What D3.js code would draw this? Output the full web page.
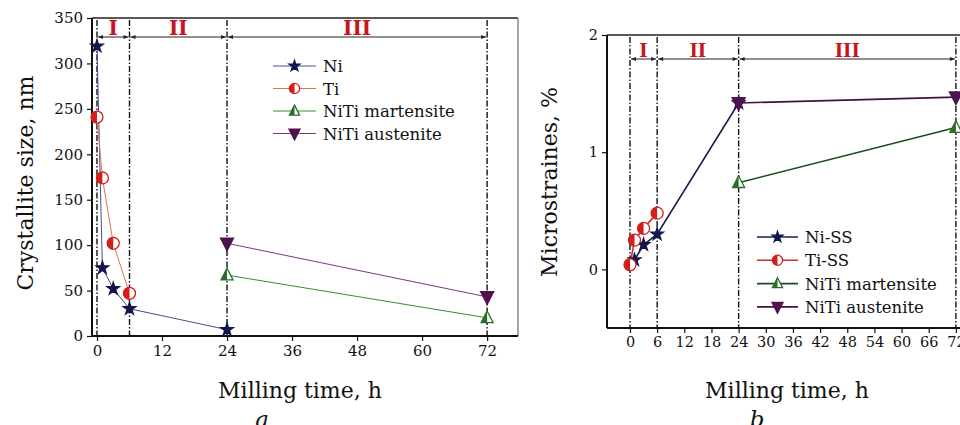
<!DOCTYPE html>
<html>
<head>
<meta charset="utf-8">
<script src="https://cdn.jsdelivr.net/npm/d3@7"></script>
<style>
  body { margin: 0; background: #fff; }
  svg { display: block; font-family: "DejaVu Serif", serif; }
</style>
</head>
<body>
<svg id="chart" width="960" height="425"></svg>
<script>
// ---- data ----
const regionBounds = [0, 6, 24, 72];
const regionNames = ["I", "II", "III"];

// panel a: crystallite size, nm
const sizeTicksX = [0, 12, 24, 36, 48, 60, 72];
const sizeTicksY = [0, 50, 100, 150, 200, 250, 300, 350];
const niTime = [0, 1, 3, 6, 24];
const niSize = [319, 75, 52, 30, 7];
const tiTime = [0, 1, 3, 6];
const tiSize = [241, 174, 102, 47];
const martTimeA = [24, 72];
const martSize = [67, 20];
const austTimeA = [24, 72];
const austSize = [102, 43];

// panel b: microstrains, %
const strainTicksX = [0, 6, 12, 18, 24, 30, 36, 42, 48, 54, 60, 66, 72];
const strainTicksY = [0, 1, 2];
const niSSTime = [1, 3, 6, 24];
const niSSStrain = [0.08, 0.21, 0.30, 1.42];
const tiSSTime = [0, 1, 3, 6];
const tiSSStrain = [0.04, 0.25, 0.35, 0.48];
const martTimeB = [24, 72];
const martStrain = [0.74, 1.21];
const austTimeB = [24, 72];
const austStrain = [1.42, 1.47];

const zip = (xs, ys) => xs.map((x, i) => ({ x, y: ys[i] }));

const svg = d3.select("#chart");

// arrowheads for the region bars
const defs = svg.append("defs");
["start", "end"].forEach((k) => {
    defs.append("marker")
        .attr("id", "arr-" + k)
        .attr("viewBox", "0 0 10 10")
        .attr("refX", k === "end" ? 10 : 0)
        .attr("refY", 5)
        .attr("markerWidth", 7)
        .attr("markerHeight", 5)
        .attr("markerUnits", "userSpaceOnUse")
        .attr("orient", "auto")
        .append("path")
        .attr("d", k === "end" ? "M0,1 L10,5 L0,9 Z" : "M10,1 L0,5 L10,9 Z")
        .attr("fill", "#222");
});

// marker glyphs
function markerPath(kind, r) {
    if (kind === "star") return d3.symbol(d3.symbolStar, r * r * 1.35)();
    if (kind === "circle") return d3.symbol(d3.symbolCircle, Math.PI * r * r)();
    const h = r * 1.15;
    if (kind === "tri") return `M0,${-h}L${r},${h * 0.7}L${-r},${h * 0.7}Z`;
    return `M0,${h}L${r},${-h * 0.7}L${-r},${-h * 0.7}Z`;
}
function halfPath(kind, r) {
    if (kind === "circle") return `M0,${-r}A${r},${r} 0 0 0 0,${r}Z`;
    const h = r * 1.15;
    return `M0,${-h}L${-r},${h * 0.7}L0,${h * 0.7}Z`;
}

function drawMarker(g, kind, half, color, cx, cy, r) {
    const m = g.append("g").attr("transform", `translate(${cx},${cy})`);
    m.append("path")
        .attr("d", markerPath(kind, r))
        .attr("fill", half ? "#fff" : color)
        .attr("stroke", color)
        .attr("stroke-width", 1.3);
    if (half) {
        m.append("path").attr("d", halfPath(kind, r)).attr("fill", color);
    }
}

function drawPanel(cfg) {
    const g = svg.append("g");
    const x = d3.scaleLinear().domain(cfg.xDomain).range(cfg.xRange);
    const y = d3.scaleLinear().domain(cfg.yDomain).range(cfg.yRange);
    const [x0, x1] = cfg.xRange;
    const [yb, yt] = cfg.yRange;

    // frame
    g.append("line").attr("x1", x0).attr("x2", x1).attr("y1", yt).attr("y2", yt)
        .attr("stroke", "#222").attr("stroke-width", 1.5);
    if (cfg.rightBorder) {
        g.append("line").attr("x1", x1).attr("x2", x1).attr("y1", yt).attr("y2", yb)
            .attr("stroke", "#888").attr("stroke-width", 1.5);
    }

    // axes
    const ax = g.append("g").attr("transform", `translate(0,${yb})`)
        .call(d3.axisBottom(x).tickValues(cfg.xTicks).tickFormat(d3.format("d"))
            .tickSize(5).tickPadding(4));
    const ay = g.append("g").attr("transform", `translate(${x0},0)`)
        .call(d3.axisLeft(y).tickValues(cfg.yTicks).tickFormat(d3.format("d"))
            .tickSize(5).tickPadding(4));
    [ax, ay].forEach((a) => {
        a.select(".domain").remove();
        a.selectAll(".tick line").attr("stroke", "#111").attr("stroke-width", 1.2);
        a.selectAll(".tick text").attr("fill", "#111")
            .style("font-size", cfg.tickFont + "px")
            .style("font-family", "'DejaVu Serif', serif");
    });
    g.append("line").attr("x1", x0).attr("x2", x1).attr("y1", yb).attr("y2", yb)
        .attr("stroke", "#111").attr("stroke-width", 2);
    g.append("line").attr("x1", x0).attr("x2", x0).attr("y1", yt).attr("y2", yb)
        .attr("stroke", "#111").attr("stroke-width", 2);

    // region boundaries
    g.selectAll(".vline").data(regionBounds).join("line")
        .attr("x1", (d) => x(d)).attr("x2", (d) => x(d))
        .attr("y1", yt + 2).attr("y2", yb)
        .attr("stroke", "#111").attr("stroke-width", 1.4)
        .attr("stroke-dasharray", "6,2,1.5,2");

    // region arrows and labels
    regionNames.forEach((name, i) => {
        const a = x(regionBounds[i]), b = x(regionBounds[i + 1]);
        g.append("line")
            .attr("x1", a + 1).attr("x2", b - 1)
            .attr("y1", cfg.arrowY).attr("y2", cfg.arrowY)
            .attr("stroke", "#222").attr("stroke-width", 1)
            .attr("marker-start", "url(#arr-start)")
            .attr("marker-end", "url(#arr-end)");
        g.append("text")
            .attr("x", (a + b) / 2).attr("y", cfg.arrowY - 2)
            .attr("text-anchor", "middle")
            .attr("fill", "#c8141e")
            .style("font-weight", "bold")
            .style("font-size", cfg.regionFont + "px")
            .text(name);
    });

    // series
    const line = d3.line().x((d) => x(d.x)).y((d) => y(d.y));
    cfg.series.forEach((s) => {
        g.append("path").datum(s.pts).attr("d", line)
            .attr("fill", "none").attr("stroke", s.line).attr("stroke-width", cfg.lineWidth);
    });
    cfg.series.forEach((s) => {
        s.pts.forEach((p) => drawMarker(g, s.kind, s.half, s.color, x(p.x), y(p.y), s.r));
    });

    // legend
    cfg.series.forEach((s, i) => {
        const ly = cfg.legend.y + i * cfg.legend.dy;
        const lx = cfg.legend.x;
        g.append("line").attr("x1", lx).attr("x2", lx + cfg.legend.w)
            .attr("y1", ly).attr("y2", ly)
            .attr("stroke", s.line).attr("stroke-width", cfg.lineWidth);
        drawMarker(g, s.kind, s.half, s.color, lx + cfg.legend.w / 2, ly, s.r * 0.85);
        g.append("text").attr("x", lx + cfg.legend.w + 7).attr("y", ly + 6)
            .attr("fill", "#111").style("font-size", cfg.legend.font + "px")
            .text(s.name);
    });

    // axis titles
    g.append("text")
        .attr("x", cfg.xTitle[0]).attr("y", cfg.xTitle[1])
        .attr("text-anchor", "middle").attr("fill", "#111")
        .style("font-size", "22px").text("Milling time, h");
    g.append("text")
        .attr("transform", `translate(${cfg.yTitle[0]},${cfg.yTitle[1]}) rotate(-90)`)
        .attr("text-anchor", "middle").attr("fill", "#111")
        .style("font-size", "22px").text(cfg.yTitleText);
    g.append("text")
        .attr("x", cfg.letter[0]).attr("y", cfg.letter[1])
        .attr("text-anchor", "middle").attr("fill", "#111")
        .style("font-size", "23px").style("font-style", "italic")
        .text(cfg.letterText);
}

drawPanel({
    xDomain: [-0.92, 77.7], xRange: [92, 518],
    yDomain: [0, 350], yRange: [336, 18],
    xTicks: sizeTicksX, yTicks: sizeTicksY, tickFont: 15,
    rightBorder: true, arrowY: 37, regionFont: 20, lineWidth: 1,
    series: [
        { name: "Ni", pts: zip(niTime, niSize), kind: "star", half: false, color: "#14144e", line: "#4c4c8c", r: 6 },
        { name: "Ti", pts: zip(tiTime, tiSize), kind: "circle", half: true, color: "#d41e1e", line: "#e0705c", r: 6 },
        { name: "NiTi martensite", pts: zip(martTimeA, martSize), kind: "tri", half: true, color: "#2a6e2a", line: "#3a8a3a", r: 6 },
        { name: "NiTi austenite", pts: zip(austTimeA, austSize), kind: "tri-down", half: false, color: "#4e124e", line: "#7a3a7a", r: 6.5 }
    ],
    legend: { x: 273, y: 66, dy: 22.5, w: 43, font: 16.5 },
    xTitle: [300, 398], yTitle: [33, 183], yTitleText: "Crystallite size, nm",
    letter: [262, 427], letterText: "a"
});

drawPanel({
    xDomain: [-5.08, 76], xRange: [607, 974],
    yDomain: [-0.5, 2], yRange: [328, 35],
    xTicks: strainTicksX, yTicks: strainTicksY, tickFont: 14.5,
    rightBorder: false, arrowY: 59, regionFont: 18, lineWidth: 1.6,
    series: [
        { name: "Ni-SS", pts: zip(niSSTime, niSSStrain), kind: "star", half: false, color: "#14144e", line: "#1c1c4c", r: 6 },
        { name: "Ti-SS", pts: zip(tiSSTime, tiSSStrain), kind: "circle", half: true, color: "#d41e1e", line: "#d42a2a", r: 6 },
        { name: "NiTi martensite", pts: zip(martTimeB, martStrain), kind: "tri", half: true, color: "#2a6e2a", line: "#1f4a1f", r: 6 },
        { name: "NiTi austenite", pts: zip(austTimeB, austStrain), kind: "tri-down", half: false, color: "#4e124e", line: "#3e143e", r: 6.5 }
    ],
    legend: { x: 757, y: 237, dy: 23.3, w: 41, font: 16.5 },
    xTitle: [787, 398], yTitle: [557, 182], yTitleText: "Microstraines, %",
    letter: [757, 427], letterText: "b"
});
</script>
</body>
</html>
